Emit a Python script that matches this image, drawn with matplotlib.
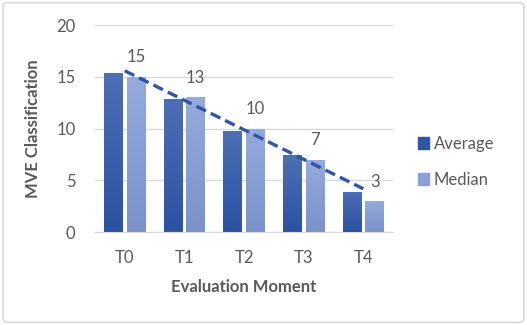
import numpy as np
import matplotlib.pyplot as plt
from matplotlib.patches import FancyBboxPatch, Rectangle
from matplotlib.colors import LinearSegmentedColormap

moments = ["T0", "T1", "T2", "T3", "T4"]
average = [15.4, 12.9, 9.8, 7.4, 3.9]
median = [15, 13, 10, 7, 3]

plt.rcParams['font.family'] = ['Lato', 'DejaVu Sans']
txt = '#595959'

fig = plt.figure(figsize=(5.27, 3.25), dpi=100)
ax = fig.add_axes([0.180, 0.286, 0.566, 0.637])

# outer frame of the chart
fig.patches.append(FancyBboxPatch((0.006, 0.008), 0.988, 0.984,
                                  boxstyle="round,pad=0,rounding_size=0.01",
                                  transform=fig.transFigure, fill=False,
                                  edgecolor='#d9d9d9', linewidth=1.2))

x = np.arange(len(moments))
w = 0.31
off = 0.19

avg_cmap = LinearSegmentedColormap.from_list('avg', ['#2c52a3', '#4d6fb5'])
med_cmap = LinearSegmentedColormap.from_list('med', ['#7a91cb', '#95abdc'])
grad = np.linspace(0, 1, 64).reshape(-1, 1)

def gradient_bars(xs, vals, cmap, label):
    bars = ax.bar(xs, vals, width=w, color=cmap(0.5), label=label, zorder=2)
    for b in bars:
        b.set_facecolor('none')
        x0, y0 = b.get_x(), b.get_y()
        im = ax.imshow(grad, cmap=cmap, origin='lower', aspect='auto',
                       extent=[x0, x0 + b.get_width(), y0, y0 + b.get_height()],
                       zorder=2)
        im.set_clip_path(b)
    return bars

gradient_bars(x - off, average, avg_cmap, 'Average')
gradient_bars(x + off, median, med_cmap, 'Median')

# linear trend of the averages
k, c = np.polyfit(x, average, 1)
ax.plot(x, k * x + c, color='#2f56a6', linestyle=(0, (3.2, 1.6)), linewidth=2.4, zorder=3)

for xi, v in zip(x, median):
    ax.annotate(str(v), (xi + off, v), xytext=(0, 14), textcoords='offset points',
                ha='center', va='center', fontsize=12, color=txt, zorder=4)

ax.set_xlim(-0.5, 4.5)
ax.set_ylim(0, 20)
ax.set_yticks([0, 5, 10, 15, 20])
ax.set_xticks(x)
ax.set_xticklabels(moments)
ax.grid(axis='y', color='#d9d9d9', linewidth=1, zorder=0)
ax.set_axisbelow(True)
for s in ['top', 'right', 'left']:
    ax.spines[s].set_visible(False)
ax.spines['bottom'].set_color('#d9d9d9')
ax.tick_params(length=0, labelsize=12, colors=txt)
ax.tick_params(axis='x', pad=13)
ax.tick_params(axis='y', pad=14)
ax.set_xlabel('Evaluation Moment', fontsize=12, fontweight='bold', color=txt, labelpad=9)
ax.set_ylabel('MVE Classification', fontsize=12, fontweight='bold', color=txt, labelpad=11)

handles = [Rectangle((0, 0), 1, 1, color='#2f55a5'), Rectangle((0, 0), 1, 1, color='#8aa0d6')]
fig.legend(handles, ['Average', 'Median'], loc='center left', bbox_to_anchor=(0.765, 0.502),
           frameon=False, fontsize=12, labelcolor=txt, handlelength=0.65, handleheight=0.65,
           handletextpad=0.3, labelspacing=1.2)

fig.savefig('out.png', dpi=100)
